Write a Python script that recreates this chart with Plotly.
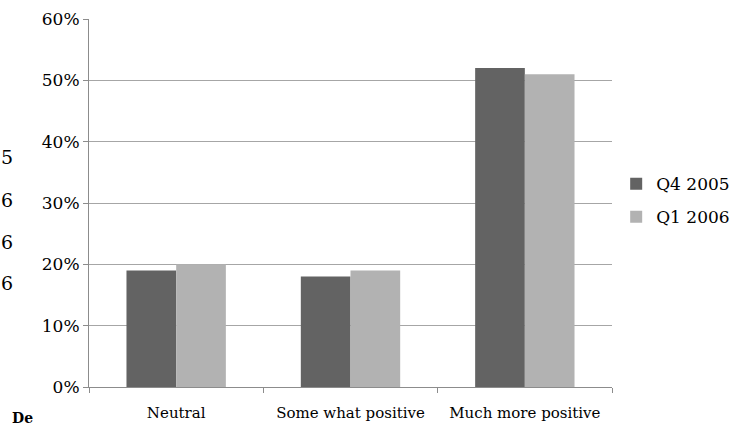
import plotly.graph_objects as go

categories = ["Neutral", "Some what positive", "Much more positive"]
q4_2005 = [0.19, 0.18, 0.52]
q1_2006 = [0.20, 0.19, 0.51]
y_ticks = [0, 0.1, 0.2, 0.3, 0.4, 0.5, 0.6]
y_tick_labels = ["0%", "10%", "20%", "30%", "40%", "50%", "60%"]

FONT = "DejaVu Serif"
W, H = 739, 433
L, R, T, B = 89, 127, 19, 46

fig = go.Figure()
fig.add_trace(go.Bar(x=categories, y=q4_2005, name="Q4 2005", legendgroup="a",
                     marker=dict(color="#636363", line=dict(width=0))))
fig.add_trace(go.Bar(x=categories, y=q1_2006, name="Q1 2006", legendgroup="b",
                     marker=dict(color="#b2b2b2", line=dict(width=0))))

def px_to_paper(px, py):
    return (px - L) / (W - L - R), (H - B - py) / (H - T - B)

# stray text fragments along the left edge
side_notes = [("5", 7, 157, False), ("6", 7, 200, False), ("6", 7, 242, False),
              ("6", 7, 283, False), ("De", 22, 418, True)]
annotations = []
for txt, px, py, bold in side_notes:
    ax, ay = px_to_paper(px, py)
    annotations.append(dict(text=f"<b>{txt}</b>" if bold else txt,
                            x=ax, y=ay, xref="paper", yref="paper",
                            showarrow=False, xanchor="center", yanchor="middle",
                            font=dict(family=FONT, size=14 if bold else 19,
                                      color="#000")))

fig.update_layout(
    width=W, height=H,
    margin=dict(l=L, r=R, t=T, b=B, autoexpand=False),
    paper_bgcolor="white", plot_bgcolor="white",
    barmode="group", bargap=0.43, bargroupgap=0,
    font=dict(family=FONT, size=17, color="#000"),
    showlegend=True,
    legend=dict(x=1.008, y=0.60, xanchor="left", yanchor="top",
                font=dict(family=FONT, size=17), itemwidth=30,
                tracegroupgap=8, bgcolor="rgba(0,0,0,0)"),
    annotations=annotations,
    xaxis=dict(showline=True, linecolor="#8c8c8c", linewidth=1,
               ticks="outside", tickson="boundaries", ticklen=5,
               tickcolor="#8c8c8c", showgrid=False, tickangle=0,
               ticklabelstandoff=12,
               tickfont=dict(family=FONT, size=15)),
    yaxis=dict(range=[0, 0.6], tickvals=y_ticks, ticktext=y_tick_labels,
               showline=True, linecolor="#8c8c8c", linewidth=1,
               ticks="outside", ticklen=5, tickcolor="#8c8c8c",
               showgrid=True, gridcolor="#a6a6a6", gridwidth=1,
               zeroline=False, tickfont=dict(family=FONT, size=17)),
)

fig.write_html("out.html")
